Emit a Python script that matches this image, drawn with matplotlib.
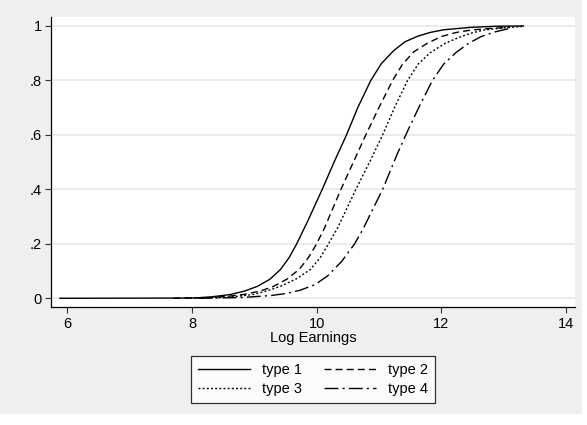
import matplotlib
matplotlib.use("Agg")
import matplotlib.pyplot as plt
from matplotlib.patches import Rectangle

plt.rcParams['font.family'] = ['Liberation Sans', 'DejaVu Sans']
plt.rcParams['lines.scale_dashes'] = False

# CDF points (log earnings, cumulative share)
x_type1 = [5.88, 8.0, 8.3, 8.62, 8.85, 9.05, 9.25, 9.42, 9.56, 9.68, 9.85,
           10.09, 10.28, 10.48, 10.66, 10.87, 11.04, 11.24, 11.42, 11.62,
           11.82, 12.04, 12.48, 12.9, 13.32]
y_type1 = [0.0, 0.001, 0.005, 0.014, 0.027, 0.044, 0.07, 0.106, 0.15, 0.20, 0.28,
           0.40, 0.50, 0.60, 0.70, 0.80, 0.862, 0.91, 0.942, 0.962,
           0.976, 0.986, 0.995, 0.999, 1.0]

x_type2 = [7.7, 8.3, 8.6, 8.83, 9.1, 9.31, 9.52, 9.72, 9.87, 10.0, 10.13,
           10.39, 10.59, 10.79, 11.0, 11.22, 11.38, 11.56, 11.78, 12.0,
           12.24, 12.48, 12.8, 13.1]
y_type2 = [0.0, 0.003, 0.008, 0.014, 0.027, 0.044, 0.07, 0.106, 0.15, 0.20, 0.26,
           0.40, 0.50, 0.60, 0.70, 0.80, 0.86, 0.905, 0.937, 0.961,
           0.976, 0.985, 0.991, 0.995]

x_type3 = [7.9, 8.5, 8.75, 8.98, 9.2, 9.42, 9.68, 9.90, 10.06, 10.19, 10.34,
           10.63, 10.85, 11.06, 11.25, 11.46, 11.63, 11.83, 12.07, 12.32,
           12.5, 12.69, 13.0, 13.3]
y_type3 = [0.0, 0.003, 0.008, 0.014, 0.027, 0.044, 0.072, 0.106, 0.15, 0.20, 0.26,
           0.40, 0.50, 0.60, 0.70, 0.80, 0.86, 0.903, 0.937, 0.961,
           0.975, 0.985, 0.993, 0.998]

x_type4 = [8.1, 8.8, 9.26, 9.52, 9.74, 9.97, 10.17, 10.4, 10.61, 10.74,
           11.06, 11.30, 11.47, 11.66, 11.86, 12.04, 12.24, 12.44, 12.64,
           12.86, 13.08]
y_type4 = [0.0, 0.003, 0.01, 0.018, 0.03, 0.05, 0.081, 0.135, 0.20, 0.252,
           0.40, 0.533, 0.619, 0.71, 0.80, 0.86, 0.903, 0.936, 0.961,
           0.978, 0.99]

labels = ['type 1', 'type 2', 'type 3', 'type 4']
x_ticks = [6, 8, 10, 12, 14]
y_ticks = [0, 0.2, 0.4, 0.6, 0.8, 1]
y_ticklabels = ['0', '.2', '.4', '.6', '.8', '1']

fig = plt.figure(figsize=(5.87, 4.25), dpi=100, facecolor='white')
# gray graph region (leaves a thin white strip right and bottom)
bg = Rectangle((0, 1 - 414 / 425), 582 / 587, 414 / 425,
               transform=fig.transFigure, facecolor='#efefef',
               edgecolor='none', zorder=-10)
fig.add_artist(bg)

ax = fig.add_axes([0.0876, 0.2776, 0.8916, 0.6831])
ax.set_facecolor('white')

h1, = ax.plot(x_type1, y_type1, color='black', lw=1.0, ls='-')
h2, = ax.plot(x_type2, y_type2, color='black', lw=1.0, ls=(0, (5, 3)))
h3, = ax.plot(x_type3, y_type3, color='black', lw=1.0, ls=(0, (1.4, 1.6)))
h4, = ax.plot(x_type4, y_type4, color='black', lw=1.0, ls=(0, (10, 3, 1.5, 3)))

ax.set_xlim(5.742, 14.145)
ax.set_ylim(-0.032, 1.034)
ax.set_xticks(x_ticks)
ax.set_yticks(y_ticks)
ax.set_yticklabels(y_ticklabels)
ax.tick_params(labelsize=10.5, length=4, width=0.8, pad=3, color='#333333')
ax.grid(axis='y', color='#e8e8e8', lw=1.2)
ax.set_axisbelow(True)
ax.spines['top'].set_visible(False)
ax.spines['right'].set_visible(False)
ax.spines['left'].set_linewidth(0.9)
ax.spines['bottom'].set_linewidth(0.9)
ax.set_xlabel('Log Earnings', fontsize=10.5, labelpad=0)

# legend filled row by row: type 1, type 2 / type 3, type 4
leg = fig.legend([h1, h3, h2, h4], [labels[0], labels[2], labels[1], labels[3]],
                 loc='center', bbox_to_anchor=(313 / 587, 1 - 379.5 / 425),
                 ncol=2, fontsize=10.5, handlelength=3.6, handletextpad=0.8,
                 columnspacing=1.5, frameon=True, fancybox=False,
                 borderpad=0.45, labelspacing=0.35)
leg.get_frame().set_edgecolor('black')
leg.get_frame().set_linewidth(0.9)

fig.savefig('out.png', dpi=100)
